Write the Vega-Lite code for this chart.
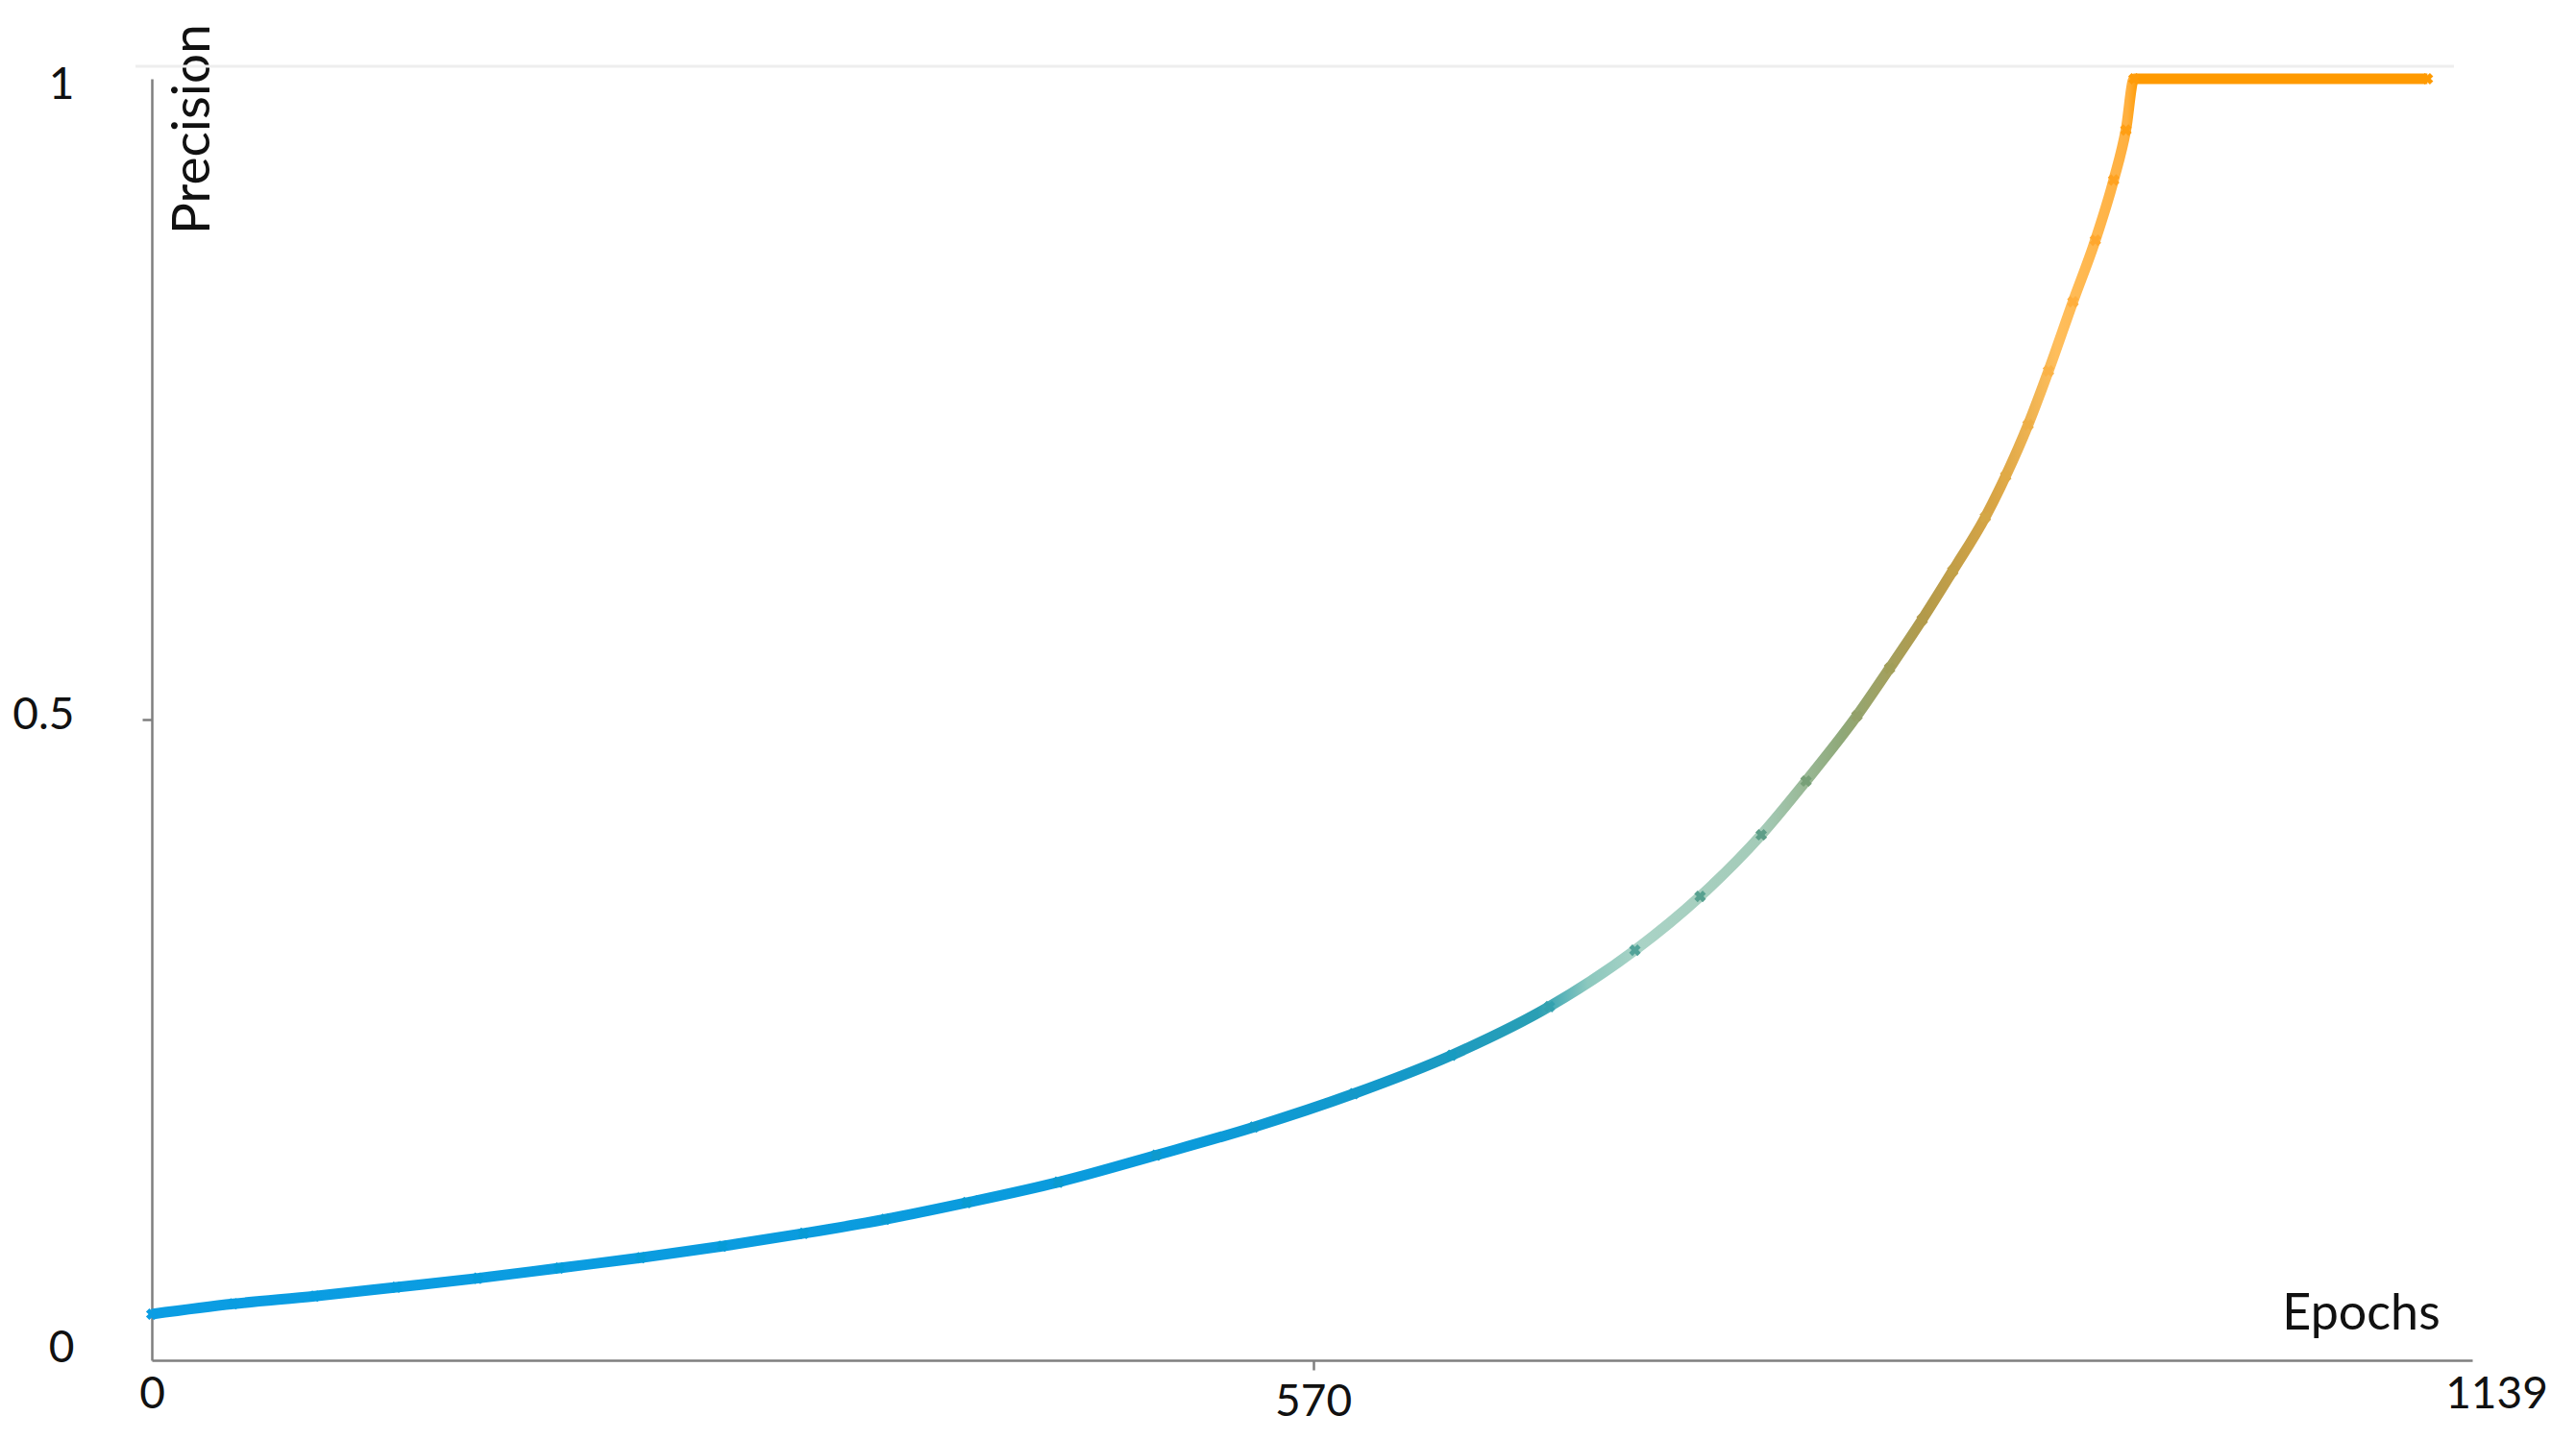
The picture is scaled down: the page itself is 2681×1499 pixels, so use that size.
{
  "$schema": "https://vega.github.io/schema/vega-lite/v6.json",
  "width": 2415,
  "height": 1334,
  "autosize": {"type": "none"},
  "padding": {"left": 158, "top": 82, "right": 108, "bottom": 83},
  "background": "white",
  "config": {"view": {"stroke": null}, "font": "Lato"},
  "resolve": {"axis": {"x": "independent", "y": "independent"}},
  "data": {
    "values": [
      {"epoch": 0, "precision": 0.036},
      {"epoch": 40, "precision": 0.044},
      {"epoch": 80, "precision": 0.05},
      {"epoch": 120, "precision": 0.057},
      {"epoch": 160, "precision": 0.064},
      {"epoch": 200, "precision": 0.072},
      {"epoch": 240, "precision": 0.08},
      {"epoch": 280, "precision": 0.089},
      {"epoch": 320, "precision": 0.099},
      {"epoch": 360, "precision": 0.11},
      {"epoch": 400, "precision": 0.123},
      {"epoch": 445, "precision": 0.139},
      {"epoch": 493, "precision": 0.16},
      {"epoch": 541, "precision": 0.182},
      {"epoch": 590, "precision": 0.208},
      {"epoch": 638, "precision": 0.238},
      {"epoch": 686, "precision": 0.276},
      {"epoch": 728, "precision": 0.32},
      {"epoch": 760, "precision": 0.362},
      {"epoch": 790, "precision": 0.41},
      {"epoch": 812, "precision": 0.452},
      {"epoch": 837, "precision": 0.503},
      {"epoch": 853, "precision": 0.54},
      {"epoch": 869, "precision": 0.578},
      {"epoch": 884, "precision": 0.616},
      {"epoch": 900, "precision": 0.658},
      {"epoch": 910, "precision": 0.69},
      {"epoch": 921, "precision": 0.73},
      {"epoch": 931, "precision": 0.772},
      {"epoch": 943, "precision": 0.826},
      {"epoch": 954, "precision": 0.874},
      {"epoch": 963, "precision": 0.921},
      {"epoch": 969, "precision": 0.96},
      {"epoch": 973, "precision": 1.0},
      {"epoch": 1117, "precision": 1.0}
    ]
  },
  "layer": [
    {
      "data": {"values": [{"a": 1}]},
      "mark": {"type": "rule", "color": "#eeeeee", "strokeWidth": 3},
      "encoding": {
        "x": {"datum": -8, "type": "quantitative", "axis": null},
        "x2": {"datum": 1130},
        "y": {"datum": 1.0097, "type": "quantitative", "axis": null}
      }
    },
    {
      "mark": {
        "type": "line",
        "strokeWidth": 11,
        "interpolate": "monotone",
        "color": {
          "gradient": "linear",
          "x1": 0, "y1": 0, "x2": 1, "y2": 0,
          "stops": [
            {"offset": 0, "color": "#0B9DE3"},
            {"offset": 0.448, "color": "#0A9BDC"},
            {"offset": 0.55, "color": "#1599C8"},
            {"offset": 0.609, "color": "#2A9FB4"},
            {"offset": 0.631, "color": "#8CC8BE"},
            {"offset": 0.654, "color": "#A9D3C6"},
            {"offset": 0.707, "color": "#A4CBB8"},
            {"offset": 0.743, "color": "#8FA878"},
            {"offset": 0.779, "color": "#B39A4A"},
            {"offset": 0.81, "color": "#D9A545"},
            {"offset": 0.837, "color": "#FFBE5C"},
            {"offset": 0.868, "color": "#FFB040"},
            {"offset": 0.873, "color": "#FF9A00"},
            {"offset": 1, "color": "#FF9A00"}
          ]
        }
      },
      "encoding": {
        "x": {
          "field": "epoch",
          "type": "quantitative",
          "scale": {"domain": [0, 1139], "nice": false, "zero": false},
          "axis": {
            "values": [0, 570, 1139],
            "format": "d",
            "title": "Epochs",
            "grid": false,
            "domainColor": "#7f7f7f",
            "domainWidth": 2.5,
            "tickSize": 10,
            "tickWidth": 2.5,
            "tickColor": {"condition": {"test": "datum.value == 570", "value": "#7f7f7f"}, "value": "transparent"},
            "labelFont": "Lato",
            "labelFontSize": 46,
            "labelColor": "#111111",
            "labelFlush": false,
            "labelOverlap": false,
            "labelPadding": {"condition": {"test": "datum.value == 570", "value": 11}, "value": 3},
            "labelOffset": {"condition": {"test": "datum.value == 1139", "value": 25}, "value": 0},
            "titleFont": "Lato",
            "titleFontSize": 52,
            "titleFontWeight": "normal",
            "titleColor": "#111111",
            "titleX": 2299,
            "titleY": -33,
            "titleAlign": "center",
            "titleBaseline": "alphabetic"
          }
        },
        "y": {
          "field": "precision",
          "type": "quantitative",
          "scale": {"domain": [0, 1], "nice": false},
          "axis": {
            "values": [0, 0.5, 1],
            "format": "~g",
            "title": "Precision",
            "grid": false,
            "domainColor": "#7f7f7f",
            "domainWidth": 2.5,
            "tickSize": 10,
            "tickWidth": 2.5,
            "tickColor": {"condition": {"test": "datum.value == 0.5", "value": "#7f7f7f"}, "value": "transparent"},
            "labelFont": "Lato",
            "labelFontSize": 46,
            "labelColor": "#111111",
            "labelPadding": 71,
            "labelFlush": false,
            "labelOverlap": false,
            "labelOffset": {"condition": [{"test": "datum.value == 1", "value": 6}, {"test": "datum.value == 0", "value": -13}], "value": -5},
            "titleFont": "Lato",
            "titleFontSize": 55,
            "titleFontWeight": "normal",
            "titleColor": "#111111",
            "titleX": 42,
            "titleY": 52,
            "titleAngle": 270,
            "titleAlign": "center",
            "titleBaseline": "middle"
          }
        }
      }
    },
    {
      "mark": {"type": "point", "shape": "cross", "angle": 45, "filled": true, "size": 150, "opacity": 1},
      "encoding": {
        "x": {"field": "epoch", "type": "quantitative", "axis": null},
        "y": {"field": "precision", "type": "quantitative", "axis": null},
        "color": {
          "field": "epoch",
          "type": "quantitative",
          "legend": null,
          "scale": {
            "domain": [0, 614, 680, 705, 790, 830, 870, 935, 975, 1117],
            "range": ["#0B9DE3", "#1599C8", "#2A9FB4", "#4FA5A0", "#5E9E88", "#8FA070", "#B39A4A", "#FFB347", "#FF9A00", "#FF9A00"]
          }
        }
      }
    }
  ]
}
